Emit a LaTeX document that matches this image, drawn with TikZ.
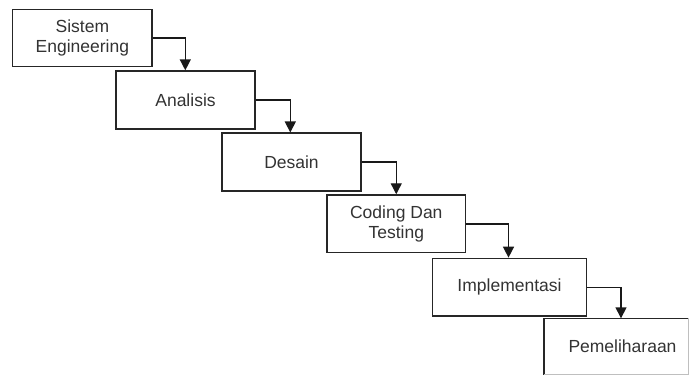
\documentclass[tikz,border=0pt]{standalone}
\usepackage{fontspec}
\setmainfont{Liberation Sans}
\usetikzlibrary{arrows.meta,calc}
\begin{document}
\begin{tikzpicture}[x=1pt,y=1pt,
  stagebox/.style={draw=black!85,line width=1.4pt,rectangle,align=center,inner sep=0pt,
    font=\fontsize{17.5}{19.5}\selectfont,text=black!80},
  arr/.style={draw=black!90,line width=1.4pt,-{Triangle[width=11pt,length=11pt]}}]
\useasboundingbox (0,0) rectangle (690,-376);
\fill[white] (0,0) rectangle (690,-376);
\node[stagebox,minimum width=139.3pt,minimum height=57.4pt] (b1) at (82.35,-38) {Sistem\\Engineering};
\node[stagebox,minimum width=139pt,minimum height=58pt] (b2) at (185.5,-100) {Analisis};
\node[stagebox,minimum width=139pt,minimum height=57.7pt] (b3) at (291.5,-162) {Desain};
\node[stagebox,minimum width=138.7pt,minimum height=57.7pt] (b4) at (396.3,-223.8) {Coding Dan\\Testing};
\node[stagebox,minimum width=153.6pt,minimum height=57.7pt] (b5) at (509.5,-287.2) {Implementasi};
\node[stagebox,draw=none,minimum width=143pt,minimum height=55pt] (b6) at (616.2,-346.5) {};
\node[font=\fontsize{17.5}{19.5}\selectfont,text=black!80] (t6) at (622.5,-346.5) {Pemeliharaan};
\draw[black!85,line width=1.4pt] (b6.south west) -- (b6.north west) -- (b6.north east);
\draw[black!25,line width=1pt] (b6.north east) -- (b6.south east) -- (b6.south west);
\draw[arr] (b1.east) -| ($(b2.north west)+(70,0)$);
\draw[arr] (b2.east) -| ($(b3.north west)+(69,0)$);
\draw[arr] (b3.east) -| ($(b4.north west)+(70,0)$);
\draw[arr] (b4.east) -| ($(b5.north west)+(76.5,0)$);
\draw[arr] (b5.east) -| ($(b6.north west)+(77,0)$);
\end{tikzpicture}
\end{document}
